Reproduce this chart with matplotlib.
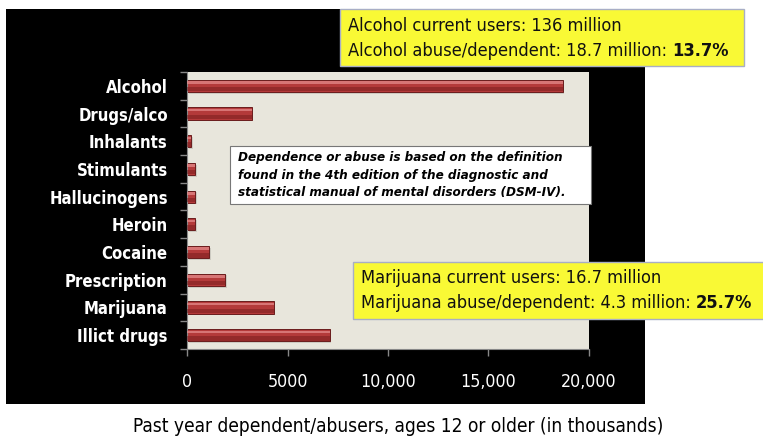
import matplotlib
matplotlib.use('Agg')
import matplotlib.pyplot as plt
from matplotlib.patches import Rectangle
from matplotlib import font_manager

categories = ['Alcohol', 'Drugs/alco', 'Inhalants', 'Stimulants', 'Hallucinogens',
              'Heroin', 'Cocaine', 'Prescription', 'Marijuana', 'Illict drugs']
values = [18700, 3200, 200, 400, 400, 400, 1100, 1900, 4300, 7100]
xticks = [0, 5000, 10000, 15000, 20000]
xticklabels = ['0', '5000', '10,000', '15,000', '20,000']
xlabel = 'Past year dependent/abusers, ages 12 or older (in thousands)'
alcohol_lines = ['Alcohol current users: 136 million',
                 'Alcohol abuse/dependent: 18.7 million: ', '13.7%']
marijuana_lines = ['Marijuana current users: 16.7 million',
                   'Marijuana abuse/dependent: 4.3 million: ', '25.7%']
note_lines = ['Dependence or abuse is based on the definition',
              'found in the 4th edition of the diagnostic and',
              'statistical manual of mental disorders (DSM-IV).']

has_cond = any(f.name == 'DejaVu Sans' and f.stretch == 'condensed'
               for f in font_manager.fontManager.ttflist)
if has_cond:
    cfam, cstretch = 'DejaVu Sans', 'condensed'
else:
    cfam, cstretch = 'Liberation Sans', 'normal'

W, H = 763, 436
fig = plt.figure(figsize=(W / 100, H / 100), dpi=100, facecolor='white')


def fx(px):
    return px / W


def fy(py):
    return 1 - py / H


def prect(x0, y0, x1, y1, **kw):
    r = Rectangle((fx(x0), fy(y1)), (x1 - x0) / W, (y1 - y0) / H,
                  transform=fig.transFigure, **kw)
    fig.add_artist(r)
    return r


renderer = fig.canvas.get_renderer()


def fit_size(text, target_px, **kw):
    t = fig.text(0, 0, text, fontsize=10, **kw)
    w = t.get_window_extent(renderer).width
    t.remove()
    return 10 * target_px / w


# black panel
prect(6, 9, 645, 404, facecolor='black', edgecolor='none', zorder=-1)

ax = fig.add_axes([fx(187.3), fy(349), (588.6 - 187.3) / W, (349 - 72) / H])
ax.set_facecolor('#E8E6DC')
ypos = list(range(len(categories)))
# soft shadow
ax.barh([y + 0.06 for y in ypos], values, height=0.44, left=60, color='#9a9890', alpha=0.35,
        edgecolor='none', zorder=1)
ax.barh(ypos, values, height=0.44, color='#B43A3A', edgecolor='#6A1C1C', linewidth=0.7, zorder=2)
ax.barh([y + 0.12 for y in ypos], values, height=0.16, color='#7A1E1E', alpha=0.55,
        edgecolor='none', zorder=3)
ax.barh([y - 0.12 for y in ypos], values, height=0.09, color='#E48A8A', alpha=0.75,
        edgecolor='none', zorder=3)
ax.set_xlim(0, 20000)
ax.set_ylim(len(categories) - 0.5, -0.5)

ysize = fit_size('Hallucinogens', 118, family=cfam, stretch=cstretch, fontweight='bold')
ax.set_yticks(ypos)
ax.set_yticklabels(categories, color='white', fontweight='bold', family=cfam,
                   stretch=cstretch, fontsize=ysize)
ax.set_yticks([i - 0.5 for i in range(len(categories) + 1)], minor=True)
ax.tick_params(axis='y', which='major', length=0, pad=14)
ax.tick_params(axis='y', which='minor', length=5, color='#888888', width=1)

xsize = fit_size('20,000', 56, family=cfam, stretch=cstretch)
ax.set_xticks(xticks)
ax.set_xticklabels(xticklabels, color='white', family=cfam, stretch=cstretch, fontsize=xsize)
ax.tick_params(axis='x', length=5, color='#888888', width=1, pad=12)
for s in ['top', 'right']:
    ax.spines[s].set_visible(False)
for s in ['left', 'bottom']:
    ax.spines[s].set_color('#888888')

lsize = fit_size(xlabel, 532, family=cfam, stretch=cstretch)
fig.text(fx(398), fy(426), xlabel, ha='center', va='center', color='black',
         family=cfam, stretch=cstretch, fontsize=lsize)

# alcohol box
bsize = fit_size(alcohol_lines[0], 275, family=cfam, stretch=cstretch)
bkw = dict(ha='left', va='center', family=cfam, stretch=cstretch, fontsize=bsize,
           color='#111111', zorder=6)
prect(340, 9, 744, 66, facecolor='#F9F935', edgecolor='#A8AEC6', linewidth=1, zorder=5)
fig.text(fx(348), fy(26), alcohol_lines[0], **bkw)
t2 = fig.text(fx(348), fy(51), alcohol_lines[1], **bkw)
e = t2.get_window_extent(renderer)
fig.text(fx(e.x1), fy(51), alcohol_lines[2], fontweight='bold', **bkw)

# marijuana box
prect(353, 262, 770, 319, facecolor='#F9F935', edgecolor='#A8AEC6', linewidth=1, zorder=5)
fig.text(fx(361), fy(278), marijuana_lines[0], **bkw)
m2 = fig.text(fx(361), fy(303), marijuana_lines[1], **bkw)
e = m2.get_window_extent(renderer)
fig.text(fx(e.x1), fy(303), marijuana_lines[2], fontweight='bold', **bkw)

# note box
prect(230, 146, 591, 204, facecolor='white', edgecolor='#777777', linewidth=0.8, zorder=5)
nsize = fit_size(note_lines[0], 326, family=cfam, stretch=cstretch, fontweight='bold',
                 fontstyle='italic')
for line, yy in zip(note_lines, [158, 175, 192]):
    fig.text(fx(238), fy(yy), line, ha='left', va='center', family=cfam, stretch=cstretch,
             fontsize=nsize, fontweight='bold', fontstyle='italic', color='black', zorder=6)

fig.savefig('out.png', dpi=100, facecolor='white')
